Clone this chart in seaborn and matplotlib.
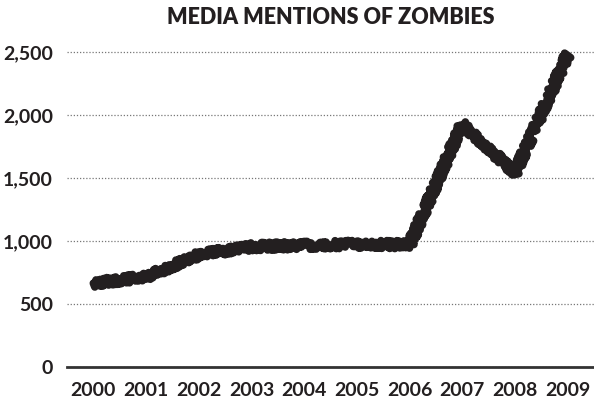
import numpy as np
import pandas as pd
import seaborn as sns
import matplotlib.pyplot as plt

years = [2000, 2001, 2002, 2003, 2004, 2005, 2006, 2007, 2008, 2009]
mentions = [665, 715, 890, 955, 965, 975, 970, 1930, 1540, 2480]
y_ticks = [0, 500, 1000, 1500, 2000, 2500]
y_labels = ["0", "500", "1,000", "1,500", "2,000", "2,500"]

df = pd.DataFrame({"year": years, "mentions": mentions})

sns.set_style("white")
plt.rcParams["font.family"] = ["Lato", "DejaVu Sans"]

fig = plt.figure(figsize=(5.94, 4.01), dpi=100)
ax = fig.add_axes([67 / 594, 1 - 367 / 401, 1 - 67 / 594, 327.6 / 401])

sns.lineplot(data=df, x="year", y="mentions", ax=ax, color="#231f20",
             linewidth=5.5, solid_capstyle="round")
# scribbly hand-drawn look
np.random.seed(3)
ax.lines[0].set_sketch_params(scale=4.0, length=1.5, randomness=3.0)

ax.set_xlim(1999.5, 2009.5)
ax.set_ylim(0, 2600)
ax.set_xticks(years)
ax.set_xticklabels([str(y) for y in years], fontsize=14, fontweight="bold", color="#231f20")
ax.set_yticks(y_ticks)
ax.set_yticklabels(y_labels, fontsize=14, fontweight="bold", color="#231f20")
ax.tick_params(axis="x", length=0, pad=11)
ax.tick_params(axis="y", length=0, pad=10)

ax.yaxis.grid(True, linestyle=(0, (1, 1.5)), color="#777777", linewidth=0.9)
ax.xaxis.grid(False)
for s in ["top", "right", "left"]:
    ax.spines[s].set_visible(False)
ax.spines["bottom"].set_color("#333333")
ax.spines["bottom"].set_linewidth(2)
ax.set_xlabel("")
ax.set_ylabel("")

fig.text(331 / 594, 1 - 18 / 401, "MEDIA MENTIONS OF ZOMBIES", ha="center", va="center",
         fontsize=15.5, fontweight="heavy", color="#231f20")

fig.savefig("out.png", dpi=100)
